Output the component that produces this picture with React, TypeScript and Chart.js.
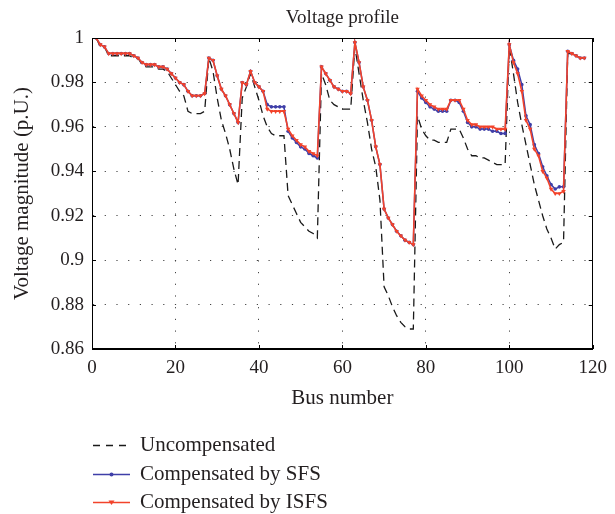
import React, { useEffect, useRef } from "react";
import { Chart, registerables } from "chart.js";

Chart.register(...registerables);

// Bus indices of the 118-bus test system
const busNumbers: number[] = Array.from({ length: 118 }, (_, i) => i + 1);

const uncompensated: number[] = [
  1.0, 0.996, 0.996, 0.992, 0.992, 0.992, 0.992, 0.992, 0.992, 0.991,
  0.991, 0.988, 0.987, 0.987, 0.987, 0.986, 0.986, 0.985, 0.982, 0.979,
  0.976, 0.974, 0.967, 0.966, 0.966, 0.966, 0.967, 0.991, 0.985, 0.973,
  0.963, 0.957, 0.95, 0.941, 0.934, 0.973, 0.978, 0.984, 0.978, 0.972,
  0.965, 0.96, 0.957, 0.956, 0.956, 0.956, 0.929, 0.925, 0.921, 0.917,
  0.915, 0.913, 0.912, 0.91, 0.984, 0.979, 0.972, 0.97, 0.969, 0.968,
  0.968, 0.968, 0.996, 0.984, 0.972, 0.962, 0.95, 0.942, 0.927, 0.888,
  0.884, 0.879, 0.875, 0.872, 0.87, 0.869, 0.869, 0.965, 0.959, 0.956,
  0.954, 0.954, 0.953, 0.953, 0.953, 0.959, 0.959, 0.959, 0.955, 0.95,
  0.947, 0.947, 0.946, 0.946, 0.945, 0.944, 0.943, 0.943, 0.943, 0.996,
  0.984, 0.971, 0.961, 0.952, 0.943, 0.934, 0.927, 0.92, 0.914, 0.91,
  0.905, 0.907, 0.908, 0.993, 0.993, 0.992, 0.991, 0.991,
];

const compensatedSFS: number[] = [
  1.0, 0.997, 0.996, 0.993, 0.993, 0.993, 0.993, 0.993, 0.993, 0.992,
  0.991, 0.989, 0.988, 0.988, 0.988, 0.987, 0.987, 0.986, 0.984, 0.982,
  0.98, 0.979, 0.976, 0.974, 0.974, 0.974, 0.975, 0.991, 0.99, 0.983,
  0.977, 0.974, 0.97, 0.966, 0.962, 0.98, 0.979, 0.985, 0.98, 0.978,
  0.976, 0.97, 0.969, 0.969, 0.969, 0.969, 0.958, 0.955, 0.953, 0.951,
  0.95, 0.948, 0.947, 0.946, 0.987, 0.984, 0.981, 0.978, 0.977, 0.976,
  0.976, 0.975, 0.998, 0.989, 0.978, 0.972, 0.963, 0.951, 0.943, 0.923,
  0.919, 0.916, 0.913, 0.911, 0.909, 0.908, 0.907, 0.976, 0.973, 0.971,
  0.969, 0.968, 0.967, 0.967, 0.967, 0.972, 0.972, 0.971, 0.967, 0.962,
  0.96, 0.96, 0.959, 0.959, 0.959, 0.958, 0.958, 0.957, 0.957, 0.997,
  0.99, 0.986, 0.979, 0.965, 0.961, 0.952, 0.948, 0.942, 0.938, 0.934,
  0.932, 0.933, 0.933, 0.994, 0.993, 0.992, 0.991, 0.991,
];

const compensatedISFS: number[] = [
  1.0, 0.997, 0.996, 0.993, 0.993, 0.993, 0.993, 0.993, 0.993, 0.992,
  0.991, 0.989, 0.988, 0.988, 0.988, 0.987, 0.987, 0.986, 0.984, 0.982,
  0.98, 0.979, 0.976, 0.974, 0.974, 0.974, 0.975, 0.991, 0.99, 0.983,
  0.977, 0.974, 0.97, 0.966, 0.962, 0.98, 0.979, 0.985, 0.98, 0.978,
  0.976, 0.968, 0.967, 0.967, 0.967, 0.967, 0.959, 0.956, 0.954, 0.952,
  0.951, 0.949, 0.948, 0.947, 0.987, 0.984, 0.981, 0.978, 0.977, 0.976,
  0.976, 0.975, 0.998, 0.989, 0.978, 0.972, 0.963, 0.951, 0.943, 0.923,
  0.919, 0.916, 0.913, 0.911, 0.909, 0.908, 0.907, 0.977, 0.974, 0.972,
  0.97, 0.969, 0.968, 0.968, 0.968, 0.972, 0.972, 0.972, 0.968, 0.963,
  0.961, 0.961, 0.96, 0.96, 0.96, 0.96, 0.959, 0.959, 0.959, 0.997,
  0.989, 0.984, 0.976, 0.963, 0.959, 0.95, 0.947, 0.94, 0.937, 0.932,
  0.93, 0.93, 0.931, 0.994, 0.993, 0.992, 0.991, 0.991,
];

const xTickValues: number[] = [0, 20, 40, 60, 80, 100, 120];
const yTickValues: number[] = [0.86, 0.88, 0.9, 0.92, 0.94, 0.96, 0.98, 1.0];

const seriesLabels: string[] = [
  "Uncompensated",
  "Compensated by SFS",
  "Compensated by ISFS",
];
const chartTitle = "Voltage profile";

const SERIF = "'Liberation Serif', 'Times New Roman', serif";
const TEXT = "#231f20";
const BLACK = "#1a1a1a";
const BLUE = "#3f3fa8";
const RED = "#f2432b";

const toPoints = (vals: number[]) =>
  busNumbers.map((b, i) => ({ x: b, y: vals[i] }));

// Title, framed box with inward ticks, and the stacked legend underneath
const decorations = {
  id: "decorations",
  afterDraw(chart: any) {
    const { ctx, chartArea: a, scales } = chart;
    ctx.save();

    // title centred over the plot
    ctx.fillStyle = TEXT;
    ctx.font = `19px ${SERIF}`;
    ctx.textAlign = "center";
    ctx.textBaseline = "middle";
    ctx.fillText(chartTitle, (a.left + a.right) / 2, 18);

    // frame
    ctx.strokeStyle = "#000";
    ctx.lineWidth = 1;
    ctx.setLineDash([]);
    ctx.strokeRect(
      Math.round(a.left) + 0.5,
      Math.round(a.top) + 0.5,
      Math.round(a.right - a.left) - 1,
      Math.round(a.bottom - a.top) - 1
    );

    // inward tick marks
    const tl = 4;
    ctx.beginPath();
    xTickValues.forEach((v) => {
      const x = Math.round(scales.x.getPixelForValue(v)) + 0.5;
      ctx.moveTo(x, a.top);
      ctx.lineTo(x, a.top + tl);
      ctx.moveTo(x, a.bottom);
      ctx.lineTo(x, a.bottom - tl);
    });
    yTickValues.forEach((v) => {
      const y = Math.round(scales.y.getPixelForValue(v)) + 0.5;
      ctx.moveTo(a.left, y);
      ctx.lineTo(a.left + tl, y);
      ctx.moveTo(a.right, y);
      ctx.lineTo(a.right - tl, y);
    });
    ctx.stroke();

    // legend
    const rows = [445, 474, 502];
    const x0 = 93;
    const x1 = 130;
    const xm = (x0 + x1) / 2;
    ctx.font = `21px ${SERIF}`;
    ctx.textAlign = "left";
    ctx.textBaseline = "middle";
    rows.forEach((y, i) => {
      ctx.save();
      if (i === 0) {
        ctx.strokeStyle = BLACK;
        ctx.lineWidth = 1.3;
        ctx.setLineDash([7, 6]);
      } else {
        ctx.strokeStyle = i === 1 ? BLUE : RED;
        ctx.lineWidth = 1.6;
        ctx.setLineDash([]);
      }
      ctx.beginPath();
      ctx.moveTo(x0, y + 0.5);
      ctx.lineTo(x1, y + 0.5);
      ctx.stroke();
      ctx.setLineDash([]);
      if (i === 1) {
        ctx.fillStyle = BLUE;
        ctx.beginPath();
        ctx.arc(xm, y + 0.5, 2, 0, Math.PI * 2);
        ctx.fill();
      } else if (i === 2) {
        ctx.fillStyle = RED;
        ctx.beginPath();
        ctx.moveTo(xm - 3, y - 1.5);
        ctx.lineTo(xm + 3, y - 1.5);
        ctx.lineTo(xm, y + 3);
        ctx.closePath();
        ctx.fill();
      }
      ctx.restore();
      ctx.fillStyle = TEXT;
      ctx.fillText(seriesLabels[i], 140, y);
    });

    ctx.restore();
  },
};

export default function App() {
  const canvasRef = useRef<HTMLCanvasElement>(null);

  useEffect(() => {
    if (!canvasRef.current) return;
    const chart = new Chart(canvasRef.current, {
      type: "line",
      data: {
        datasets: [
          {
            label: seriesLabels[0],
            data: toPoints(uncompensated),
            borderColor: BLACK,
            borderWidth: 1.3,
            borderDash: [8, 5],
            pointRadius: 0,
            fill: false,
            tension: 0,
            order: 3,
          },
          {
            label: seriesLabels[1],
            data: toPoints(compensatedSFS),
            borderColor: BLUE,
            backgroundColor: BLUE,
            borderWidth: 1.5,
            pointRadius: 1.8,
            pointBorderWidth: 0,
            pointStyle: "circle",
            fill: false,
            tension: 0,
            order: 2,
          },
          {
            label: seriesLabels[2],
            data: toPoints(compensatedISFS),
            borderColor: RED,
            backgroundColor: RED,
            borderWidth: 1.6,
            pointRadius: 2.6,
            pointBorderWidth: 0,
            pointStyle: "triangle",
            pointRotation: 180,
            fill: false,
            tension: 0,
            order: 1,
          },
        ],
      },
      options: {
        responsive: false,
        animation: false,
        events: [],
        layout: { padding: { left: 0, right: 15, top: 38, bottom: 103 } },
        plugins: {
          legend: { display: false },
          tooltip: { enabled: false },
          title: { display: false },
        },
        scales: {
          x: {
            type: "linear",
            min: 0,
            max: 120,
            afterBuildTicks: (s: any) => {
              s.ticks = xTickValues.map((v) => ({ value: v }));
            },
            afterFit: (s: any) => {
              s.height = 62;
            },
            ticks: {
              font: { family: SERIF, size: 19 },
              color: TEXT,
              padding: 8,
              maxRotation: 0,
              callback: (v: any) => String(v),
            },
            grid: { color: "#444", lineWidth: 1, drawTicks: false },
            border: { display: true, color: "#000", dash: [1.2, 10.5] },
            title: {
              display: true,
              text: "Bus number",
              font: { family: SERIF, size: 21 },
              color: TEXT,
              padding: 0,
            },
          },
          y: {
            type: "linear",
            min: 0.86,
            max: 1.0,
            afterBuildTicks: (s: any) => {
              s.ticks = yTickValues.map((v) => ({ value: v }));
            },
            afterFit: (s: any) => {
              s.width = 92;
            },
            ticks: {
              font: { family: SERIF, size: 19 },
              color: TEXT,
              padding: 8,
              callback: (v: any) => String(+Number(v).toFixed(2)),
            },
            grid: { color: "#444", lineWidth: 1, drawTicks: false },
            border: { display: true, color: "#000", dash: [1.2, 10.5] },
            title: {
              display: true,
              text: "Voltage magnitude (p.U.)",
              font: { family: SERIF, size: 21 },
              color: TEXT,
              padding: { top: 10, bottom: 0 },
            },
          },
        },
      },
      plugins: [decorations],
    });
    return () => chart.destroy();
  }, []);

  return (
    <div
      style={{
        position: "absolute",
        left: 0,
        top: 0,
        width: 615,
        height: 514,
        background: "#fff",
      }}
    >
      <canvas
        ref={canvasRef}
        width={615}
        height={514}
        style={{ display: "block", width: 615, height: 514 }}
      />
    </div>
  );
}
